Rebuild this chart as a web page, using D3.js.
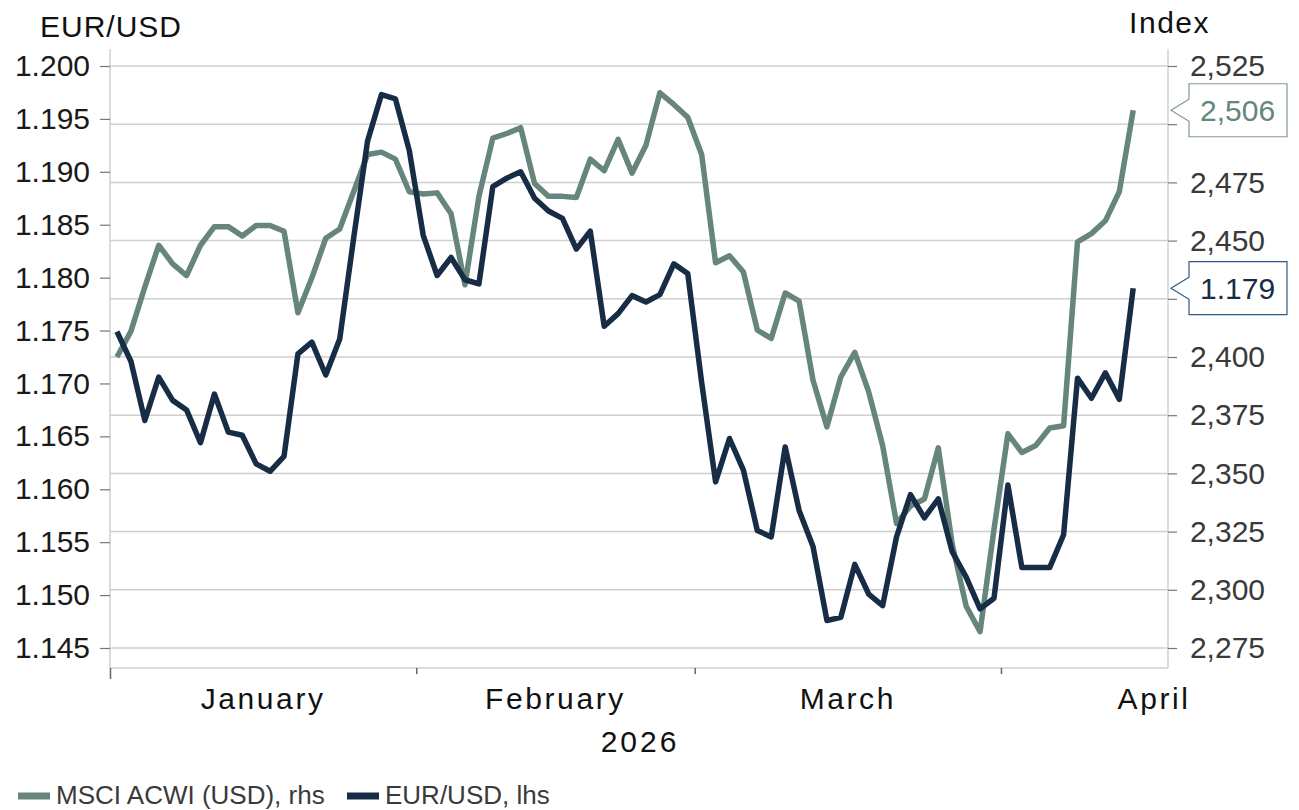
<!DOCTYPE html>
<html>
<head>
<meta charset="utf-8">
<script src="https://cdn.jsdelivr.net/npm/d3@7"></script>
<style>
  html, body { margin: 0; padding: 0; background: #fff; }
  svg { display: block; font-family: "Liberation Sans", Arial, sans-serif; }
</style>
</head>
<body>
<svg id="chart" width="1299" height="810"></svg>
<script>
// Daily closes, every weekday from 1 Jan 2026 to 14 Apr 2026
const startDate = new Date(2026, 0, 1);
const axisEnd = new Date(2026, 3, 17);     // axis runs through 16 Apr
const labelEnd = new Date(2026, 4, 1);     // month labels centred on whole months

const eurusd = [
  1.1749, 1.1721, 1.1665, 1.1706, 1.1684, 1.1675, 1.1644, 1.1690, 1.1654, 1.1651,
  1.1624, 1.1617, 1.1631, 1.1728, 1.1739, 1.1708, 1.1742, 1.1837, 1.1929, 1.1973,
  1.1969, 1.1920, 1.1840, 1.1802, 1.1819, 1.1798, 1.1794, 1.1886, 1.1894, 1.1900,
  1.1875, 1.1863, 1.1856, 1.1827, 1.1844, 1.1754, 1.1766, 1.1783, 1.1777,
  1.1784, 1.1813, 1.1804, 1.1701, 1.1607, 1.1648, 1.1618, 1.1561, 1.1555, 1.1640,
  1.1580, 1.1546, 1.1476, 1.1479, 1.1529, 1.1501, 1.1490, 1.1555, 1.1595, 1.1573,
  1.1591, 1.1541, 1.1517, 1.1487, 1.1497, 1.1604, 1.1526, 1.1526, 1.1526, 1.1557,
  1.1705, 1.1686, 1.1710, 1.1685, 1.179
];

const acwi = [
  2400, 2411, 2430, 2448, 2440, 2435, 2448, 2456, 2456, 2452,
  2456.5, 2456.5, 2454, 2419, 2434, 2451, 2455, 2471, 2487, 2488,
  2485, 2471, 2470, 2470.5, 2461.5, 2431, 2469, 2494, 2496, 2498.5,
  2474.5, 2469, 2469, 2468.5, 2485, 2480, 2493.5, 2479, 2491,
  2513.5, 2508.5, 2503, 2487, 2440.5, 2443.5, 2436.5, 2411.5, 2408, 2427.5,
  2424, 2390, 2370, 2391.5, 2402, 2385, 2362, 2328.5, 2336, 2339,
  2361, 2319.5, 2293, 2282, 2326, 2367, 2359, 2362, 2369.5, 2370.5,
  2449.5, 2453, 2458.5, 2471, 2506
];

const leftTicks = [1.145, 1.150, 1.155, 1.160, 1.165, 1.170, 1.175, 1.180, 1.185, 1.190, 1.195, 1.200];
const rightTicks = [2275, 2300, 2325, 2350, 2375, 2400, 2425, 2450, 2475, 2500, 2525];
const monthNames = ["January", "February", "March", "April"];

const seriesNames = ["MSCI ACWI (USD), rhs", "EUR/USD, lhs"];
const colGreen = "#66857c";
const colNavy = "#172d45";

// weekday calendar used as evenly spaced categories
const isWeekday = d => d.getDay() !== 0 && d.getDay() !== 6;
const allDays = d3.timeDay.range(startDate, labelEnd).filter(isWeekday);
const nSlots = d3.timeDay.range(startDate, axisEnd).filter(isWeekday).length;

const L = 110, R = 1168, T = 49, B = 668;
const svg = d3.select("#chart");

const x = d3.scaleLinear().domain([0, nSlots]).range([L, R]);
const yL = d3.scaleLinear().domain([1.145, 1.200]).range([648, 66]);
const yR = d3.scaleLinear().domain([2275, 2525]).range([648, 66]);

// callout positions for the latest values (tick labels under them are hidden)
const calloutH = 53;
const calloutYs = [yR(acwi[acwi.length - 1]), yL(eurusd[eurusd.length - 1])];
const underCallout = v => calloutYs.some(cy => Math.abs(yR(v) - cy) < calloutH / 2 + 8);

// gridlines on the right-hand scale
svg.append("g").selectAll("line").data(rightTicks).join("line")
  .attr("x1", L).attr("x2", R)
  .attr("y1", d => yR(d)).attr("y2", d => yR(d))
  .attr("stroke", "#cfcfcf").attr("stroke-width", 1.5);

// frame
svg.append("line").attr("x1", L).attr("x2", R).attr("y1", B).attr("y2", B)
  .attr("stroke", "#cfcfcf").attr("stroke-width", 1.5);
svg.append("line").attr("x1", L).attr("x2", L).attr("y1", T).attr("y2", B)
  .attr("stroke", "#cfcfcf").attr("stroke-width", 1.5);
svg.append("line").attr("x1", R).attr("x2", R).attr("y1", T).attr("y2", B)
  .attr("stroke", "#cfcfcf").attr("stroke-width", 1.5);

// left axis
const axL = svg.append("g").attr("transform", `translate(${L},0)`)
  .call(d3.axisLeft(yL).tickValues(leftTicks).tickFormat(d3.format(".3f")).tickSize(10).tickPadding(10));
axL.select(".domain").remove();
axL.selectAll(".tick line").attr("stroke", "#777").attr("stroke-width", 1.2);
axL.selectAll(".tick text").attr("font-size", 30).attr("fill", "#1a1a1a")
  .attr("font-family", "'Liberation Sans', Arial, sans-serif");

// right axis
const axR = svg.append("g").attr("transform", `translate(${R},0)`)
  .call(d3.axisRight(yR).tickValues(rightTicks)
    .tickFormat(d => underCallout(d) ? "" : d3.format(",")(d)).tickSize(9).tickPadding(0));
axR.select(".domain").remove();
axR.selectAll(".tick line").attr("stroke", "#777").attr("stroke-width", 1.2);
axR.selectAll(".tick text").attr("font-size", 30).attr("fill", "#3a3a3a")
  .attr("text-anchor", "end").attr("x", 97)
  .attr("font-family", "'Liberation Sans', Arial, sans-serif");

// month boundaries and centred month labels
const months = monthNames.map((name, m) => {
  const idx = allDays.map((d, i) => d.getMonth() === m ? i : -1).filter(i => i >= 0);
  return { name, start: idx[0], end: idx[idx.length - 1] + 1 };
});
const boundaries = months.map(m => m.start).filter(s => s < nSlots);
const axB = svg.append("g").attr("transform", `translate(0,${B})`)
  .call(d3.axisBottom(x).tickValues(boundaries).tickFormat("").tickSize(6));
axB.select(".domain").remove();
axB.selectAll(".tick line").attr("stroke", "#666").attr("stroke-width", 1.5)
  .attr("y2", (d, i) => i === 0 ? 11 : 6);

svg.append("g").selectAll("text").data(months).join("text")
  .attr("x", d => x((d.start + d.end) / 2))
  .attr("y", 709)
  .attr("text-anchor", "middle")
  .attr("font-size", 30).attr("letter-spacing", 2.6).attr("fill", "#111")
  .text(d => d.name);

svg.append("text").attr("x", 640).attr("y", 752).attr("text-anchor", "middle")
  .attr("font-size", 30).attr("letter-spacing", 3).attr("fill", "#111").text("2026");

// axis titles
svg.append("text").attr("x", 40).attr("y", 37).attr("font-size", 30)
  .attr("letter-spacing", 1).attr("fill", "#111").text("EUR/USD");
svg.append("text").attr("x", 1210).attr("y", 33).attr("text-anchor", "end")
  .attr("font-size", 30).attr("letter-spacing", 1.5).attr("fill", "#111").text("Index");

// series lines
const lineL = d3.line().x((d, i) => x(i + 0.5)).y(d => yL(d));
const lineR = d3.line().x((d, i) => x(i + 0.5)).y(d => yR(d));

svg.append("path").datum(acwi).attr("d", lineR)
  .attr("fill", "none").attr("stroke", colGreen).attr("stroke-width", 5.5)
  .attr("stroke-linejoin", "round");
svg.append("path").datum(eurusd).attr("d", lineL)
  .attr("fill", "none").attr("stroke", colNavy).attr("stroke-width", 5.5)
  .attr("stroke-linejoin", "round");

// last-value callouts
function callout(yPos, text, stroke, textColor) {
  const tipX = R + 3, bx = 1189, bw = 98, bh = calloutH;
  const top = yPos - bh / 2;
  const g = svg.append("g");
  g.append("path")
    .attr("d", `M${bx},${yPos - 11} L${tipX},${yPos} L${bx},${yPos + 11} L${bx},${top + bh} L${bx + bw},${top + bh} L${bx + bw},${top} L${bx},${top} Z`)
    .attr("fill", "#fff").attr("stroke", stroke).attr("stroke-width", 1.2);
  g.append("text").attr("x", bx + 11).attr("y", yPos + 11)
    .attr("font-size", 30).attr("fill", textColor).text(text);
}
callout(calloutYs[0], d3.format(",.0f")(acwi[acwi.length - 1]), "#7f9b92", colGreen);
callout(calloutYs[1], d3.format(".3f")(eurusd[eurusd.length - 1]), "#2f5a86", colNavy);

// legend
const legend = svg.append("g");
const legendItems = [
  { name: seriesNames[0], color: colGreen, x: 18 },
  { name: seriesNames[1], color: colNavy, x: 347 }
];
legendItems.forEach(it => {
  legend.append("line").attr("x1", it.x).attr("x2", it.x + 32).attr("y1", 796).attr("y2", 796)
    .attr("stroke", it.color).attr("stroke-width", 7);
  legend.append("text").attr("x", it.x + 38).attr("y", 804)
    .attr("font-size", 26).attr("fill", "#3a3a3a").text(it.name);
});
</script>
</body>
</html>
